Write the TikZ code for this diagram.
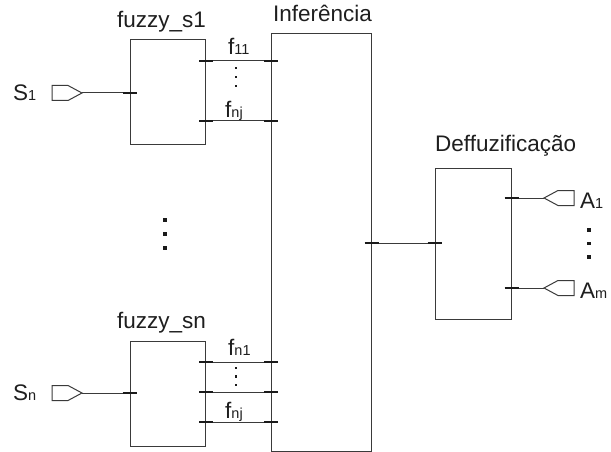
\documentclass[tikz,border=0pt]{standalone}
\usepackage{fontspec}
\setmainfont{Liberation Sans}
\usetikzlibrary{calc}
\definecolor{ln}{HTML}{3A3A3A}
\definecolor{tk}{HTML}{1A1A1A}
\definecolor{tx}{HTML}{1E1E1E}
\newcommand{\smsub}[1]{{\fontsize{14.5}{14.5}\selectfont #1}}
\begin{document}
\begin{tikzpicture}[x=1pt,y=-1pt,
  blk/.style={draw=ln, line width=1pt, rectangle, inner sep=0pt},
  wire/.style={draw=ln, line width=1pt},
  pinmark/.style={draw=tk, line width=2.2pt},
  port/.style={draw=ln, line width=1pt, line join=miter},
  lbl/.style={text=tx, inner sep=0pt, anchor=base west, font=\fontsize{22.5}{25}\selectfont},
  dotsq/.style={fill=tk, draw=none, minimum size=3.2pt, inner sep=0pt, rectangle}]
\useasboundingbox (0,0) rectangle (611,452);

% blocks
\node[blk, minimum width=75pt, minimum height=104pt] (fs1) at (167.5,92) {};
\node[blk, minimum width=75pt, minimum height=105pt] (fsn) at (167.5,393.5) {};
\node[blk, minimum width=100pt, minimum height=417pt] (inf) at (321,242.5) {};
\node[blk, minimum width=76pt, minimum height=151pt] (def) at (473,243.5) {};

% titles
\node[lbl] (t1) at (117,27.5) {fuzzy\_s1};
\node[lbl] (t2) at (117,328.5) {fuzzy\_sn};
\node[lbl] (t3) at (273,21.5) {Inferência};
\node[lbl] (t4) at (435,151.5) {Deffuzificação};

% input ports
\coordinate (s1tip) at (82,93);
\coordinate (sntip) at (82,393);
\draw[port] (52,85.5) -- (68,85.5) -- (s1tip) -- (68,100.5) -- (52,100.5) -- cycle;
\draw[port] (52,385.5) -- (68,385.5) -- (sntip) -- (68,400.5) -- (52,400.5) -- cycle;
\node[lbl] (ls1) at (13,100) {S\smsub{1}};
\node[lbl] (lsn) at (13,400) {S\smsub{n}};

% output ports
\coordinate (a1tip) at (544,198);
\coordinate (amtip) at (544,288);
\draw[port] (a1tip) -- (558,190.5) -- (574,190.5) -- (574,205.5) -- (558,205.5) -- cycle;
\draw[port] (amtip) -- (558,280.5) -- (574,280.5) -- (574,295.5) -- (558,295.5) -- cycle;
\node[lbl] (la1) at (580,208) {A\smsub{1}};
\node[lbl] (lam) at (580,298) {A\smsub{m}};

% wires
\draw[wire] (s1tip) -- (fs1.west |- s1tip);
\draw[wire] (sntip) -- (fsn.west |- sntip);
\foreach \yy in {60.7,120.7} {
  \draw[wire] (fs1.east |- 0,\yy) -- (inf.west |- 0,\yy);
  \draw[pinmark] ($(fs1.east |- 0,\yy)+(-6.5,0)$) -- ++(14,0);
  \draw[pinmark] ($(inf.west |- 0,\yy)+(-6.5,0)$) -- ++(14,0);
}
\foreach \yy in {362,392,422} {
  \draw[wire] (fsn.east |- 0,\yy) -- (inf.west |- 0,\yy);
  \draw[pinmark] ($(fsn.east |- 0,\yy)+(-6.5,0)$) -- ++(14,0);
  \draw[pinmark] ($(inf.west |- 0,\yy)+(-6.5,0)$) -- ++(14,0);
}
\draw[pinmark] ($(fs1.west |- s1tip)+(-7,0)$) -- ++(14,0);
\draw[pinmark] ($(fsn.west |- sntip)+(-7,0)$) -- ++(14,0);
\draw[wire] (inf.east |- 0,243) -- (def.west |- 0,243);
\draw[pinmark] ($(inf.east |- 0,243)+(-7,0)$) -- ++(14,0);
\draw[pinmark] ($(def.west |- 0,243)+(-7,0)$) -- ++(14,0);
\draw[wire] (def.east |- a1tip) -- (a1tip);
\draw[wire] (def.east |- amtip) -- (amtip);
\draw[pinmark] ($(def.east |- a1tip)+(-7,0)$) -- ++(14,0);
\draw[pinmark] ($(def.east |- amtip)+(-7,0)$) -- ++(14,0);

% signal labels
\node[lbl] (f11) at (228,55) {f\smsub{11}};
\node[lbl] (f1j) at (225,117.5) {f\smsub{nj}};
\node[lbl] (fn1) at (228,355) {f\smsub{n1}};
\node[lbl] (fnj) at (225,418) {f\smsub{nj}};

% ellipsis dots
\foreach \yy in {68,77,86} \node[dotsq, minimum size=2.4pt] at (236,\yy) {};
\foreach \yy in {368,376.5,385} \node[dotsq, minimum size=2.4pt] at (236,\yy) {};
\foreach \yy in {220,234,248} \node[dotsq] at (165,\yy) {};
\foreach \yy in {230,243.5,257} \node[dotsq] at (589,\yy) {};
\end{tikzpicture}
\end{document}
